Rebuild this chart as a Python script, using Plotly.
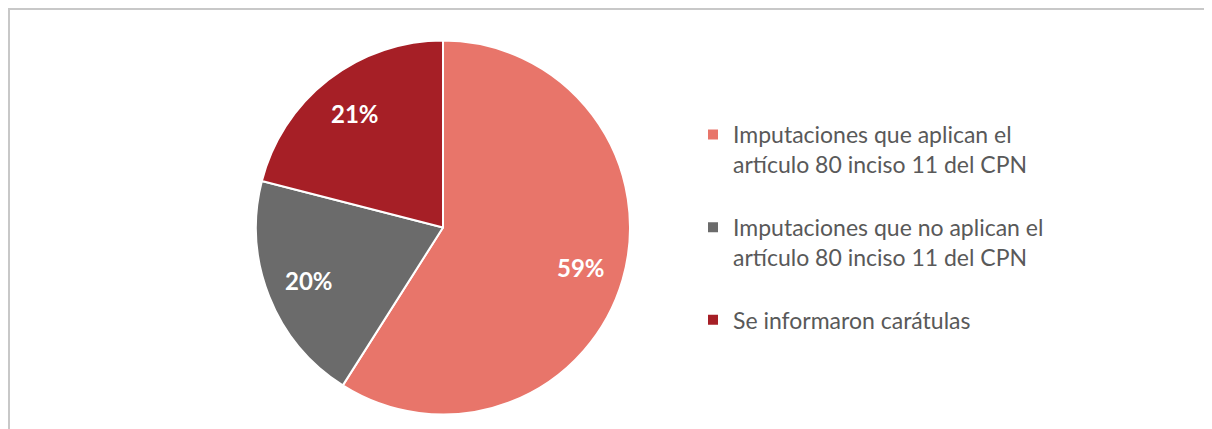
import math
import plotly.graph_objects as go

# data
labels = [
    "Imputaciones que aplican el<br>artículo 80 inciso 11 del CPN",
    "Imputaciones que no aplican el<br>artículo 80 inciso 11 del CPN",
    "Se informaron carátulas",
]
values = [59, 20, 21]
colors = ["#E8756A", "#6B6B6B", "#A61F26"]

W, H = 1212, 429
OFF = 8  # page body margin, positions below are page pixels minus this

# pie box in figure pixels
px0, px1 = 256 - OFF, 630 - OFF
py0, py1 = 40 - OFF, 415 - OFF
dom_x = [px0 / W, px1 / W]
dom_y = [1 - py1 / H, 1 - py0 / H]

fig = go.Figure()
fig.add_trace(go.Pie(
    # a blank trailing line gives the legend its gap between entries
    labels=[l + "<br> " for l in labels],
    values=values,
    sort=False,
    direction="clockwise",
    rotation=0,
    marker=dict(colors=colors, line=dict(color="white", width=2)),
    textinfo="none",
    hovertemplate="%{label}: %{percent}<extra></extra>",
    domain=dict(x=dom_x, y=dom_y),
))

# percent labels placed along each slice's bisector
total = sum(values)
cx, cy = (px0 + px1) / 2, (py0 + py1) / 2
r = min(px1 - px0, py1 - py0) / 2
annotations = []
cum = 0
for v in values:
    mid = (cum + v / 2) / total * 2 * math.pi
    cum += v
    lx = cx + 0.77 * r * math.sin(mid)
    ly = cy - 0.77 * r * math.cos(mid)
    annotations.append(dict(
        x=lx / W, y=1 - ly / H, xref="paper", yref="paper",
        xanchor="center", yanchor="middle",
        text="%d%%" % round(v / total * 100), showarrow=False,
        font=dict(family="Lato", size=24, color="white", weight="bold"),
    ))

fig.update_layout(
    width=W, height=H,
    margin=dict(l=0, r=0, t=0, b=0),
    paper_bgcolor="white",
    plot_bgcolor="white",
    font=dict(family="Lato", color="#595959"),
    showlegend=True,
    legend=dict(
        x=(693 - OFF) / W, xanchor="left",
        y=1 - (113 - OFF) / H, yanchor="top",
        valign="top",
        font=dict(family="Lato", size=23, color="#595959"),
        bgcolor="rgba(0,0,0,0)",
    ),
    annotations=annotations,
    shapes=[dict(
        type="rect", xref="paper", yref="paper",
        x0=1 / W, x1=1.05, y0=-0.05, y1=1 - 1 / H,
        line=dict(color="#C8C8C8", width=2),
        layer="below",
    )],
)

fig.write_html("out.html")
